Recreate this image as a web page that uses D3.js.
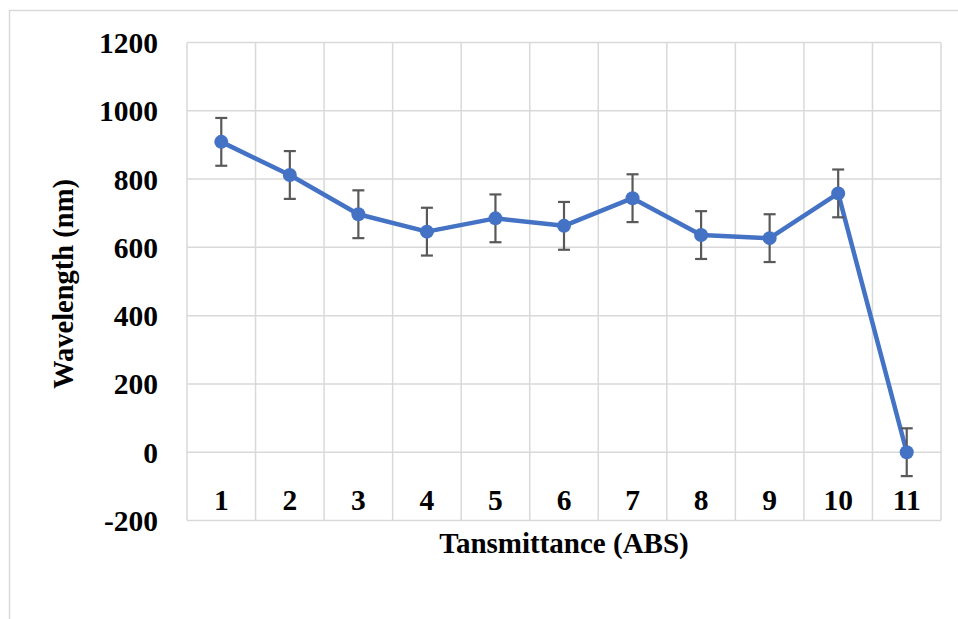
<!DOCTYPE html>
<html><head><meta charset="utf-8">
<script src="https://cdn.jsdelivr.net/npm/d3@7"></script>
<style>body{margin:0;background:#fff}svg{display:block}</style>
</head><body>
<script>
const categories = ["1","2","3","4","5","6","7","8","9","10","11"];
const values = [909, 812, 697, 646, 685, 663, 744, 636, 627, 758, 0];
const errors = [70, 70, 70, 70, 70, 70, 70, 70, 70, 70, 70];
const yTicks = [-200, 0, 200, 400, 600, 800, 1000, 1200];
const xTitle = "Tansmittance (ABS)";
const yTitle = "Wavelength (nm)";

const W = 958, H = 619;
const svg = d3.select("body").append("svg").attr("width", W).attr("height", H);
const font = "'Liberation Serif','Times New Roman',serif";

svg.append("rect").attr("x", 9.5).attr("y", 10.5).attr("width", 1000).attr("height", 1000)
  .attr("fill", "#fff").attr("stroke", "#d9d9d9").attr("stroke-width", 1.5);

const L = 187, R = 941, T = 42.5, B = 520.5;
const x = d3.scaleBand().domain(categories).range([L, R]).padding(0);
const y = d3.scaleLinear().domain([-200, 1200]).range([B, T]);

const grid = svg.append("g").attr("stroke", "#d9d9d9").attr("stroke-width", 1.5);
yTicks.forEach(t => grid.append("line").attr("x1", L).attr("x2", R).attr("y1", y(t)).attr("y2", y(t)));
categories.forEach(c => grid.append("line").attr("x1", x(c)).attr("x2", x(c)).attr("y1", T).attr("y2", B));
grid.append("line").attr("x1", R).attr("x2", R).attr("y1", T).attr("y2", B);

// y axis labels
const yAxis = d3.axisLeft(y).tickValues(yTicks).tickSize(0).tickPadding(0).tickFormat(d => String(d));
const ya = svg.append("g").attr("transform", `translate(${158},0)`).call(yAxis);
ya.select(".domain").remove();
ya.selectAll("text").attr("font-family", font).attr("font-weight", "bold").attr("font-size", 29.5)
  .attr("fill", "#000").attr("dy", "0.34em");

// x axis labels
const xAxis = d3.axisBottom(x).tickSize(0).tickPadding(0);
const xa = svg.append("g").attr("transform", `translate(0,${510})`).call(xAxis);
xa.select(".domain").remove();
xa.selectAll("text").attr("font-family", font).attr("font-weight", "bold").attr("font-size", 29.5)
  .attr("fill", "#000").attr("dy", 0);

const cx = c => x(c) + x.bandwidth() / 2;
const data = categories.map((c, i) => ({c, v: values[i], e: errors[i]}));

// line
svg.append("path").datum(data)
  .attr("d", d3.line().x(d => cx(d.c)).y(d => y(d.v)))
  .attr("fill", "none").attr("stroke", "#4472C4").attr("stroke-width", 4.5).attr("stroke-linejoin", "round");

// error bars
const eb = svg.append("g").attr("stroke", "#595959").attr("stroke-width", 2.2);
data.forEach(d => {
  eb.append("line").attr("x1", cx(d.c)).attr("x2", cx(d.c)).attr("y1", y(d.v + d.e)).attr("y2", y(d.v - d.e));
  eb.append("line").attr("x1", cx(d.c) - 6).attr("x2", cx(d.c) + 6).attr("y1", y(d.v + d.e)).attr("y2", y(d.v + d.e));
  eb.append("line").attr("x1", cx(d.c) - 6).attr("x2", cx(d.c) + 6).attr("y1", y(d.v - d.e)).attr("y2", y(d.v - d.e));
});

// markers
svg.append("g").selectAll("circle").data(data).join("circle")
  .attr("cx", d => cx(d.c)).attr("cy", d => y(d.v)).attr("r", 7).attr("fill", "#4472C4");

// titles
svg.append("text").attr("x", (L + R) / 2).attr("y", 553).attr("text-anchor", "middle")
  .attr("font-family", font).attr("font-weight", "bold").attr("font-size", 29).text(xTitle);
svg.append("text").attr("transform", `translate(73,${284}) rotate(-90)`).attr("text-anchor", "middle")
  .attr("font-family", font).attr("font-weight", "bold").attr("font-size", 28.5).text(yTitle);
</script>
</body></html>
